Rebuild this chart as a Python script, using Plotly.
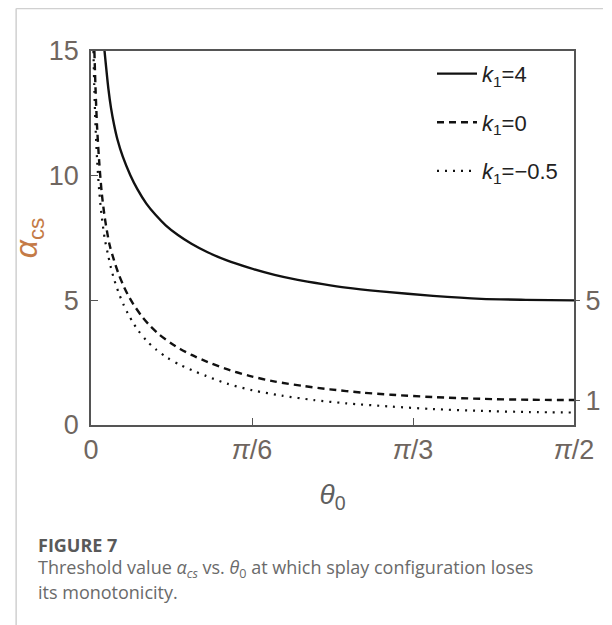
import math
import plotly.graph_objects as go

# ---- data (theta0 in radians, alpha_cs) ----
theta_k4 = [0.044, 0.0566, 0.065, 0.0754, 0.0858, 0.1037, 0.1279, 0.1508, 0.180, 0.2105, 0.2429,
            0.2827, 0.3267, 0.3792, 0.4398, 0.5152, 0.5969, 0.6723, 0.754, 0.8294, 0.9425,
            1.1122, 1.2692, 1.4137, 1.5708]
alpha_k4 = [15.0, 13.48, 12.72, 12.02, 11.46, 10.75, 10.02, 9.46, 8.88, 8.42, 8.01,
            7.62, 7.27, 6.93, 6.61, 6.30, 6.02, 5.82, 5.65, 5.51, 5.36,
            5.18, 5.06, 5.02, 5.0]

theta_k0 = [0.011, 0.015, 0.02, 0.027, 0.035, 0.045, 0.06, 0.075, 0.09, 0.105, 0.12, 0.138,
            0.164, 0.191, 0.222, 0.259, 0.29, 0.327, 0.367, 0.437, 0.515, 0.599, 0.693,
            0.777, 0.882, 0.976, 1.112, 1.269, 1.426, 1.5708]
alpha_k0 = [15.0, 13.4, 11.9, 10.5, 9.3, 8.3, 7.25, 6.6, 6.05, 5.6, 5.22, 4.84,
            4.38, 3.99, 3.63, 3.29, 3.05, 2.81, 2.59, 2.26, 1.97, 1.74, 1.56,
            1.43, 1.30, 1.215, 1.12, 1.05, 1.012, 1.0]

theta_km = [0.008, 0.011, 0.015, 0.02, 0.027, 0.035, 0.045, 0.055, 0.065, 0.075, 0.09, 0.105,
            0.12, 0.138, 0.153, 0.18, 0.211, 0.248, 0.29, 0.337, 0.374, 0.442, 0.526,
            0.62, 0.725, 0.829, 0.976, 1.112, 1.269, 1.426, 1.5708]
alpha_km = [15.0, 13.4, 11.9, 10.6, 9.35, 8.35, 7.45, 6.85, 6.3, 5.85, 5.3, 4.85,
            4.47, 4.08, 3.8, 3.39, 3.03, 2.7, 2.41, 2.15, 1.97, 1.66, 1.39,
            1.18, 1.0, 0.87, 0.74, 0.64, 0.565, 0.52, 0.5]

legend_names = ["<i>k</i><sub>1</sub>=4", "<i>k</i><sub>1</sub>=0", "<i>k</i><sub>1</sub>=\u22120.5"]
x_tickvals = [0, math.pi / 6, math.pi / 3, math.pi / 2]
x_ticktext = ["0", "<i>\u03c0</i>/6", "<i>\u03c0</i>/3", "<i>\u03c0</i>/2"]
y_tickvals = [0, 5, 10, 15]
right_tickvals = [1, 5]

TXT = "#6f6660"
AX = "#555555"
FONT = "Liberation Sans, Arial, sans-serif"

fig = go.Figure()
fig.add_trace(go.Scatter(x=theta_k4, y=alpha_k4, mode="lines", name=legend_names[0],
                         legendgroup="a", line=dict(color="#111111", width=2.4, shape="spline", smoothing=0.8)))
fig.add_trace(go.Scatter(x=theta_k0, y=alpha_k0, mode="lines", name=legend_names[1],
                         legendgroup="b", line=dict(color="#111111", width=2.4, dash="7px,5px",
                                                    shape="spline", smoothing=0.8)))
fig.add_trace(go.Scatter(x=theta_km, y=alpha_km, mode="lines", name=legend_names[2],
                         legendgroup="c", line=dict(color="#111111", width=2.2, dash="2px,6px",
                                                    shape="spline", smoothing=0.8)))
# invisible trace so the right-hand axis is drawn
fig.add_trace(go.Scatter(x=[theta_k4[-1]], y=[alpha_k4[-1]], yaxis="y2", mode="markers",
                         marker=dict(opacity=0), showlegend=False, hoverinfo="skip"))

fig.update_layout(
    width=604, height=617,
    margin=dict(l=78, r=26, t=43, b=200),
    paper_bgcolor="white", plot_bgcolor="white",
    font=dict(family=FONT, color=TXT),
    showlegend=True,
    legend=dict(x=0.706, y=0.995, xanchor="left", yanchor="top",
                bgcolor="rgba(0,0,0,0)", font=dict(size=22, color="#222222", family=FONT),
                tracegroupgap=17, itemwidth=40),
    xaxis=dict(range=[0, math.pi / 2], tickvals=x_tickvals, ticktext=x_ticktext,
               ticks="inside", ticklen=7, tickcolor=AX, tickwidth=1,
               showline=True, linecolor=AX, linewidth=1.5, mirror=True,
               showgrid=False, zeroline=False,
               tickfont=dict(size=27, color=TXT, family=FONT),
               title=dict(text="<i>\u03b8</i><sub>0</sub>", font=dict(size=28, color="#5f5f5f", family=FONT), standoff=20)),
    yaxis=dict(range=[0, 15], tickvals=y_tickvals,
               ticks="inside", ticklen=7, tickcolor=AX, tickwidth=1,
               showline=True, linecolor=AX, linewidth=1.5, mirror=True,
               showgrid=False, zeroline=False, ticklabelstandoff=5,
               tickfont=dict(size=27, color=TXT, family=FONT),
               title=dict(text="<i>\u03b1</i><sub>cs</sub>", font=dict(size=32, color="#c47a46", family=FONT), standoff=6)),
    yaxis2=dict(range=[0, 15], overlaying="y", side="right", tickvals=right_tickvals,
                ticks="outside", ticklen=5, tickcolor=AX, showline=False, showgrid=False,
                zeroline=False, tickfont=dict(size=27, color=TXT, family=FONT)),
)

# page decoration (border lines of the figure panel) and caption
fig.add_shape(type="line", xref="paper", yref="paper", x0=-0.155, x1=1.06, y0=1.1136, y1=1.1136,
              line=dict(color="#d0d0d0", width=1.5))
fig.add_shape(type="line", xref="paper", yref="paper", x0=-0.155, x1=-0.155, y0=1.1136, y1=-0.6,
              line=dict(color="#d0d0d0", width=1.5))

CAP = "Open Sans, Noto Sans, sans-serif"
fig.add_annotation(xref="paper", yref="paper", x=-0.114, y=-0.3209, xanchor="left", yanchor="middle",
                   text="<b>FIGURE 7</b>", showarrow=False, font=dict(size=18, color="#595959", family=CAP))
fig.add_annotation(xref="paper", yref="paper", x=-0.114, y=-0.385, xanchor="left", yanchor="middle",
                   text="Threshold value <i>\u03b1<sub>cs</sub></i> vs. <i>\u03b8</i><sub>0</sub> at which splay configuration loses",
                   showarrow=False, font=dict(size=18, color="#6a6a6a", family=CAP))
fig.add_annotation(xref="paper", yref="paper", x=-0.114, y=-0.4465, xanchor="left", yanchor="middle",
                   text="its monotonicity.", showarrow=False, font=dict(size=18, color="#6a6a6a", family=CAP))

fig.write_html("out.html")
